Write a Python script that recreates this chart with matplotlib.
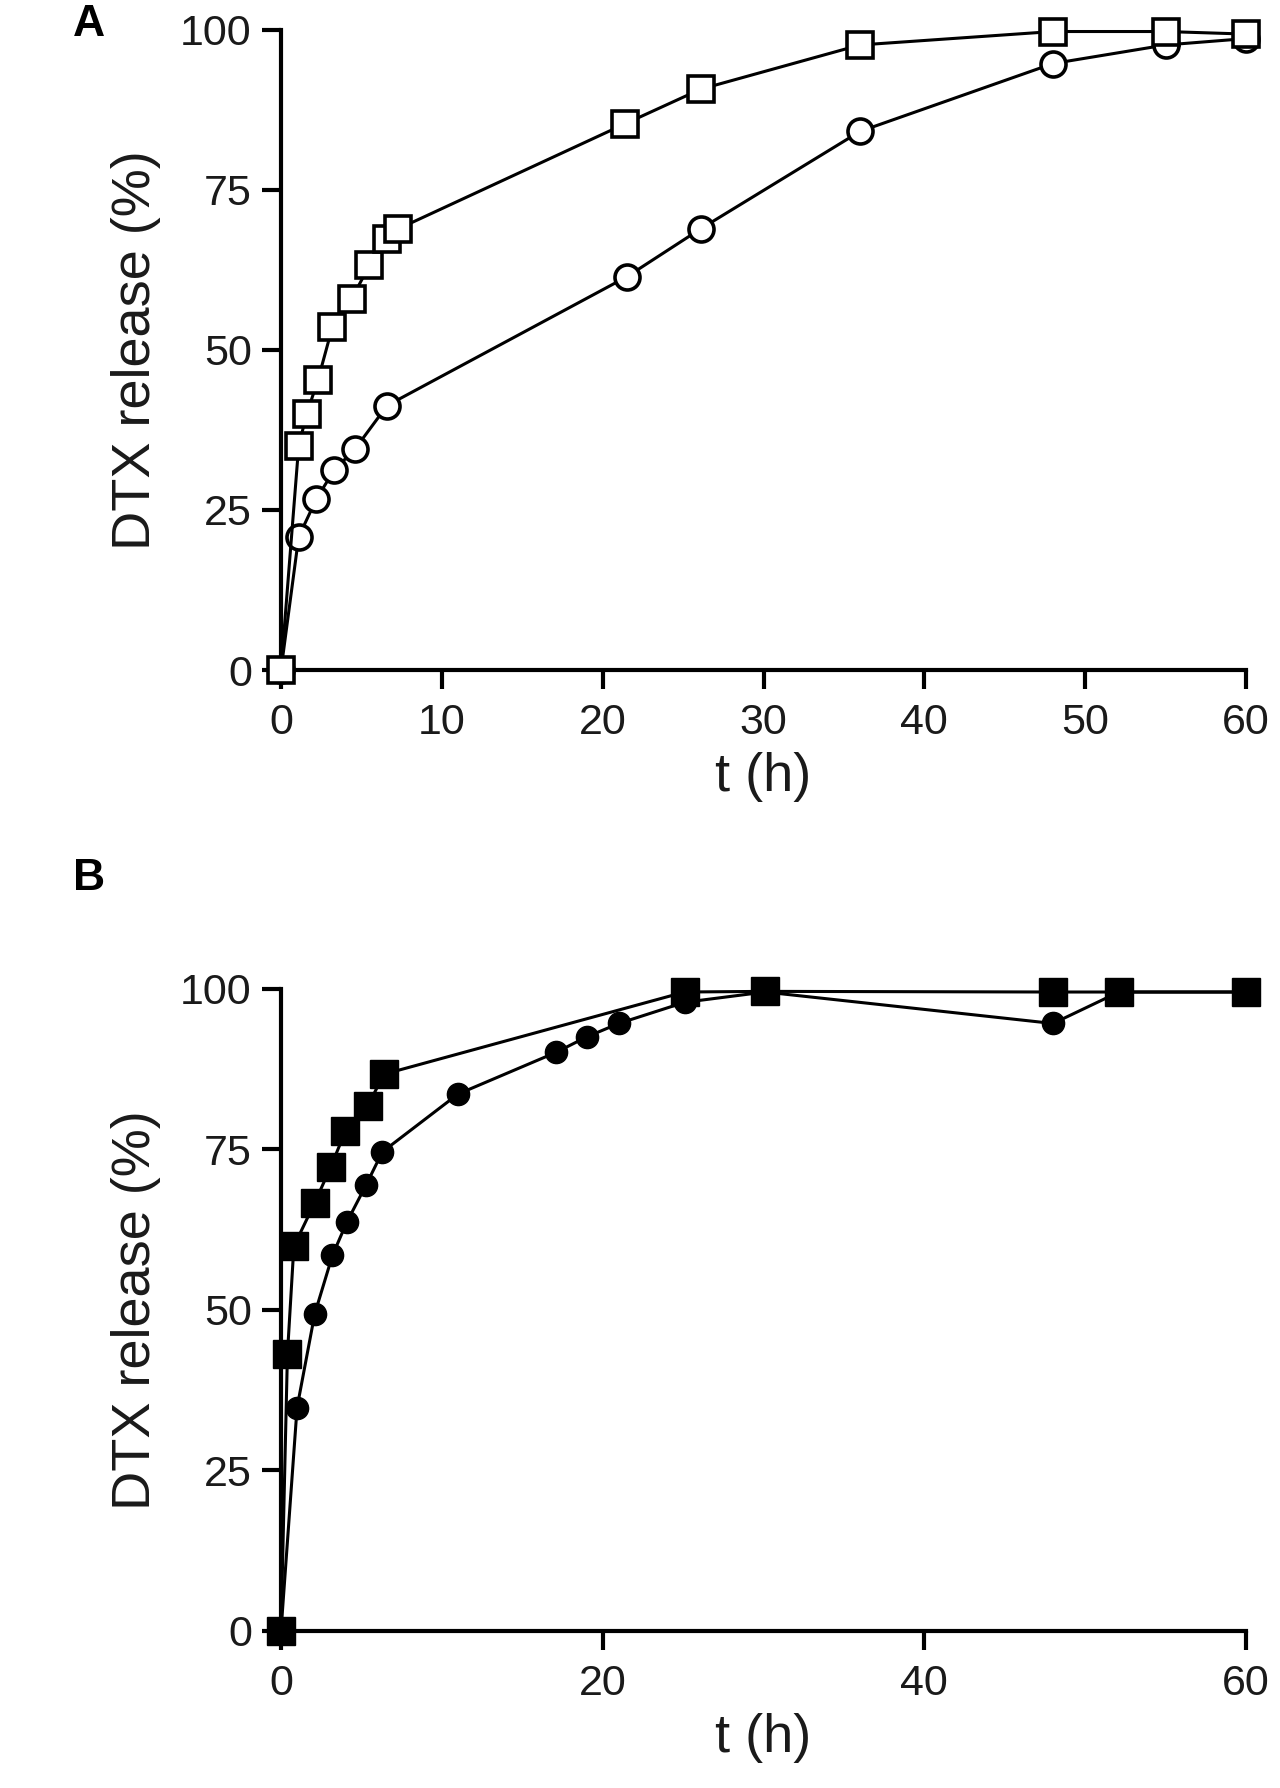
import matplotlib
matplotlib.use("Agg")
import matplotlib.pyplot as plt

plt.rcParams['font.family'] = ['Liberation Sans', 'DejaVu Sans']

# Panel A data
tA_sq = [0, 1.1, 1.6, 2.3, 3.2, 4.4, 5.5, 6.6, 7.3, 21.4, 26.1, 36.0, 48.0, 55.0, 60.0]
yA_sq = [0, 35.0, 40.0, 45.3, 53.6, 58.0, 63.2, 67.3, 68.9, 85.3, 90.7, 97.6, 99.7, 99.7, 99.3]
tA_ci = [0, 1.1, 2.2, 3.3, 4.6, 6.6, 21.5, 26.1, 36.0, 48.0, 55.0, 60.0]
yA_ci = [0, 20.8, 26.7, 31.2, 34.5, 41.3, 61.4, 68.9, 84.1, 94.7, 97.6, 98.6]

# Panel B data
tB_sq = [0, 0.4, 0.8, 2.1, 3.1, 4.0, 5.4, 6.4, 25.1, 30.1, 48.0, 52.1, 60.0]
yB_sq = [0, 43.1, 59.9, 66.7, 72.3, 77.8, 81.8, 86.7, 99.5, 99.6, 99.5, 99.5, 99.5]
tB_ci = [0, 1.0, 2.1, 3.2, 4.1, 5.3, 6.3, 11.0, 17.1, 19.0, 21.0, 25.1, 30.1, 48.0, 52.1, 60.0]
yB_ci = [0, 34.8, 49.4, 58.5, 63.7, 69.5, 74.6, 83.6, 90.1, 92.5, 94.6, 97.9, 99.5, 94.6, 99.5, 99.5]

yticks = [0, 25, 50, 75, 100]
xticksA = [0, 10, 20, 30, 40, 50, 60]
xticksB = [0, 20, 40, 60]

fig = plt.figure(figsize=(12.8, 17.88), dpi=100)
L, R = 281/1280, 1246/1280
axA = fig.add_axes([L, 1-670/1788, R-L, (670-29.6)/1788])
axB = fig.add_axes([L, 1-1631/1788, R-L, (1631-988.8)/1788])

txtc = '#1a1a1a'

def style(ax, xticks):
    ax.set_xlim(0, 60)
    ax.set_ylim(0, 100)
    ax.set_xticks(xticks)
    ax.set_yticks(yticks)
    for s in ['top', 'right']:
        ax.spines[s].set_visible(False)
    for s in ['left', 'bottom']:
        ax.spines[s].set_linewidth(3.0)
    ax.tick_params(axis='both', direction='out', length=14, width=3.0,
                   labelsize=31, labelcolor=txtc, color='black')
    ax.tick_params(axis='x', pad=10)
    ax.tick_params(axis='y', pad=7)
    ax.set_xlabel('t (h)', fontsize=39, color=txtc, labelpad=6)
    ax.set_ylabel('DTX release (%)', fontsize=39, color=txtc, labelpad=14)

axA.plot(tA_ci, yA_ci, color='black', lw=2.2, marker='o', ms=18,
         mfc='white', mec='black', mew=2.6, clip_on=False, zorder=3)
axA.plot(tA_sq, yA_sq, color='black', lw=2.2, marker='s', ms=19,
         mfc='white', mec='black', mew=2.6, clip_on=False, zorder=4)

axB.plot(tB_ci, yB_ci, color='black', lw=2.2, marker='o', ms=16,
         mfc='black', mec='black', clip_on=False, zorder=3)
axB.plot(tB_sq, yB_sq, color='black', lw=2.2, marker='s', ms=20,
         mfc='black', mec='black', clip_on=False, zorder=4)

style(axA, xticksA)
style(axB, xticksB)

fig.text(89/1280, 1-24/1788, 'A', fontsize=32, fontweight='bold', ha='center', va='center', color='black')
fig.text(89/1280, 1-878/1788, 'B', fontsize=32, fontweight='bold', ha='center', va='center', color='black')

fig.savefig('out.png', dpi=100, facecolor='white')
